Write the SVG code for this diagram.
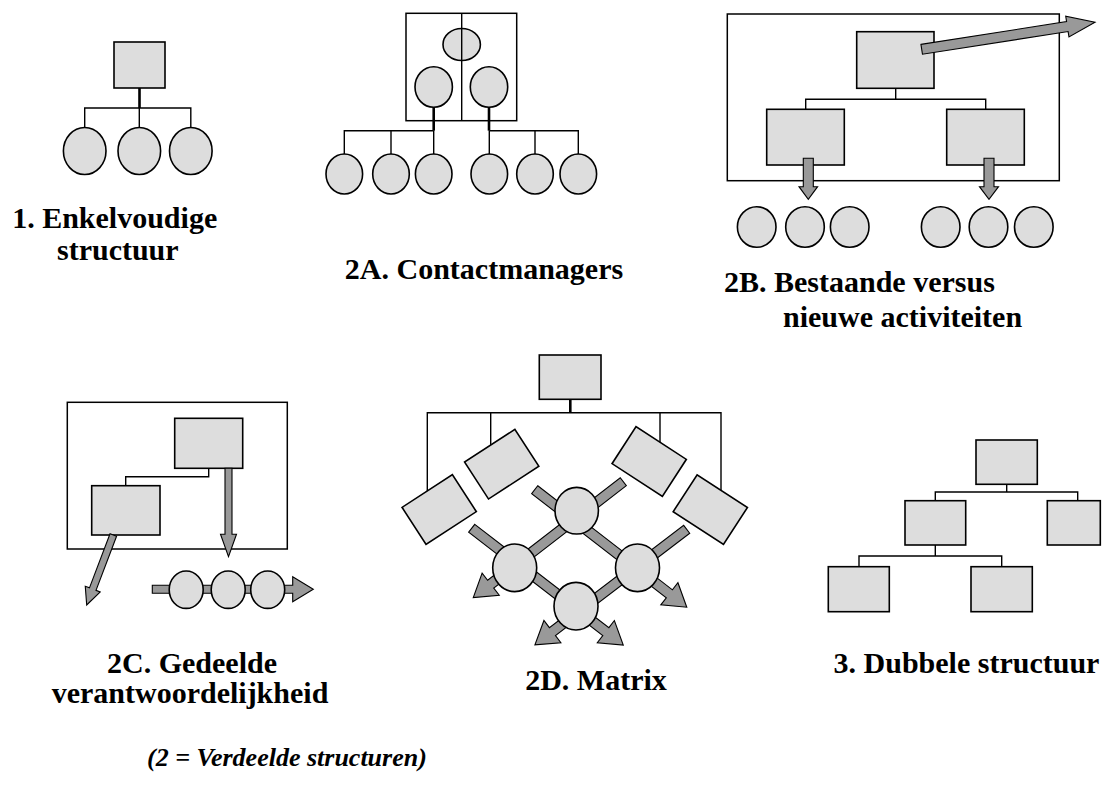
<svg xmlns="http://www.w3.org/2000/svg" width="1109" height="798" viewBox="0 0 1109 798">
<style>
.box{fill:#dddddd;stroke:#000;stroke-width:1.6}
.frame{fill:none;stroke:#000;stroke-width:1.5}
.conn line,.conn polyline{fill:none;stroke:#000;stroke-width:1.4}
.conn .thick{stroke-width:2.6}
.arrow{fill:#999999;stroke:#000;stroke-width:1.1;stroke-linejoin:miter}
.lbl{font-family:'Liberation Serif','DejaVu Serif',serif;font-weight:700;font-size:30px;fill:#000}
.note{font-family:'Liberation Serif','DejaVu Serif',serif;font-weight:700;font-style:italic;font-size:26px;fill:#000}
</style>
<rect width="1109" height="798" fill="#fff"/>

<!-- 1. Enkelvoudige structuur -->
<g id="d1">
  <g id="d1-connectors" class="conn">
    <line class="thick" x1="139.5" y1="88" x2="139.5" y2="108"/>
    <polyline points="84.7,128 84.7,108 190.8,108 190.8,128"/>
    <line x1="139.3" y1="108" x2="139.3" y2="128"/>
  </g>
  <g id="d1-top"><rect class="box" x="114" y="42" width="51" height="46"/></g>
  <g id="d1-c1"><ellipse class="box" cx="84.7" cy="151" rx="21.3" ry="23.5"/></g>
  <g id="d1-c2"><ellipse class="box" cx="139.3" cy="151" rx="21.3" ry="23.5"/></g>
  <g id="d1-c3"><ellipse class="box" cx="190.8" cy="151" rx="21.3" ry="23.5"/></g>
  <text class="lbl" x="114.7" y="228" text-anchor="middle" font-family="Liberation Serif, serif">1. Enkelvoudige</text>
  <text class="lbl" x="117.8" y="260" text-anchor="middle" font-family="Liberation Serif, serif">structuur</text>
</g>

<!-- 2A. Contactmanagers -->
<g id="d2a">
  <g id="d2a-connectors" class="conn">
    <line class="thick" x1="433.7" y1="107" x2="433.7" y2="130.7"/>
    <line class="thick" x1="489" y1="107" x2="489" y2="130.7"/>
    <polyline points="344.3,154 344.3,130.7 433.7,130.7"/>
    <line x1="391" y1="130.7" x2="391" y2="154"/>
    <line x1="433.7" y1="130.7" x2="433.7" y2="154"/>
    <polyline points="489.3,130.7 578.3,130.7 578.3,154"/>
    <line x1="489.3" y1="130.7" x2="489.3" y2="154"/>
    <line x1="535" y1="130.7" x2="535" y2="154"/>
  </g>
  <g id="d2a-frame">
    <rect class="frame" x="406" y="13.3" width="110.7" height="107.4"/>
  </g>
  <g id="d2a-top"><ellipse class="box" cx="461.7" cy="44.5" rx="18.7" ry="16"/></g>
  <g id="d2a-m1"><ellipse class="box" cx="433.7" cy="87" rx="18.7" ry="20.3"/></g>
  <g id="d2a-m2"><ellipse class="box" cx="489" cy="87" rx="18.7" ry="20.3"/></g>
  <line x1="461.7" y1="13.3" x2="461.7" y2="120.7" stroke="#000" stroke-width="1.4"/>
  <g id="d2a-b1"><ellipse class="box" cx="344.3" cy="174" rx="18.3" ry="20"/></g>
  <g id="d2a-b2"><ellipse class="box" cx="391" cy="174" rx="18.3" ry="20"/></g>
  <g id="d2a-b3"><ellipse class="box" cx="433.7" cy="174" rx="18.3" ry="20"/></g>
  <g id="d2a-b4"><ellipse class="box" cx="489.3" cy="174" rx="18.3" ry="20"/></g>
  <g id="d2a-b5"><ellipse class="box" cx="535" cy="174" rx="18.3" ry="20"/></g>
  <g id="d2a-b6"><ellipse class="box" cx="578.3" cy="174" rx="18.3" ry="20"/></g>
  <text class="lbl" x="484" y="279" text-anchor="middle" font-family="Liberation Serif, serif">2A. Contactmanagers</text>
</g>

<!-- 2B. Bestaande versus nieuwe activiteiten -->
<g id="d2b">
  <g id="d2b-frame"><rect class="frame" x="727.3" y="14" width="332" height="166.7"/></g>
  <g id="d2b-connectors" class="conn">
    <line x1="895.7" y1="88.3" x2="895.7" y2="99.3"/>
    <polyline points="805.7,109.3 805.7,99.3 985.7,99.3 985.7,109.3"/>
  </g>
  <g id="d2b-top"><rect class="box" x="856.7" y="31.7" width="77.3" height="56.6"/></g>
  <g id="d2b-left"><rect class="box" x="766.7" y="109.3" width="77.6" height="55.7"/></g>
  <g id="d2b-right"><rect class="box" x="946.7" y="109.3" width="77.6" height="55.7"/></g>
  <g id="d2b-arrows">
    <polygon class="arrow" transform="translate(921.7,49.3) rotate(-8.86)" points="0,-5 147.4,-5 147.4,-10.5 175.4,0 147.4,10.5 147.4,5 0,5"/>
    <polygon class="arrow" points="803.3,158.3 813.3,158.3 813.3,186.7 817.6,186.7 808.3,199.3 799,186.7 803.3,186.7"/>
    <polygon class="arrow" points="984,158.3 994,158.3 994,186.7 998.5,186.7 989,199.3 979.5,186.7 984,186.7"/>
  </g>
  <g id="d2b-c1"><ellipse class="box" cx="756.7" cy="227" rx="19.3" ry="20.3"/></g>
  <g id="d2b-c2"><ellipse class="box" cx="805" cy="227" rx="19.3" ry="20.3"/></g>
  <g id="d2b-c3"><ellipse class="box" cx="849.7" cy="227" rx="19.3" ry="20.3"/></g>
  <g id="d2b-c4"><ellipse class="box" cx="940.7" cy="227" rx="19.3" ry="20.3"/></g>
  <g id="d2b-c5"><ellipse class="box" cx="988.5" cy="227" rx="19.3" ry="20.3"/></g>
  <g id="d2b-c6"><ellipse class="box" cx="1033.8" cy="227" rx="19.3" ry="20.3"/></g>
  <text class="lbl" x="724" y="292" font-family="Liberation Serif, serif">2B. Bestaande versus</text>
  <text class="lbl" x="783" y="327" font-family="Liberation Serif, serif">nieuwe activiteiten</text>
</g>

<!-- 2C. Gedeelde verantwoordelijkheid -->
<g id="d2c">
  <g id="d2c-frame"><rect class="frame" x="67.3" y="402.3" width="220" height="146.7"/></g>
  <g id="d2c-connectors" class="conn">
    <polyline points="208.7,468.3 208.7,476.7 125.7,476.7 125.7,485.7"/>
  </g>
  <g id="d2c-top"><rect class="box" x="174.7" y="418.3" width="68" height="50"/></g>
  <g id="d2c-left"><rect class="box" x="91.7" y="485.7" width="68.3" height="49.3"/></g>
  <g id="d2c-arrows">
    <polygon class="arrow" points="225,468.3 232,468.3 232,534.3 236.5,534.3 228.5,556.7 220.5,534.3 225,534.3"/>
    <polygon class="arrow" transform="translate(113.3,535) rotate(110.8)" points="0,-3.5 57.9,-3.5 57.9,-8 74.9,0 57.9,8 57.9,3.5 0,3.5"/>
    <polygon class="arrow" points="152.3,585.2 292.7,585.2 292.7,576.7 313.3,589.2 292.7,601.7 292.7,593.2 152.3,593.2"/>
  </g>
  <g id="d2c-c1"><ellipse class="box" cx="186.2" cy="589.7" rx="17" ry="18.7"/></g>
  <g id="d2c-c2"><ellipse class="box" cx="228.2" cy="589.7" rx="17" ry="18.7"/></g>
  <g id="d2c-c3"><ellipse class="box" cx="267.7" cy="589.7" rx="17" ry="18.7"/></g>
  <text class="lbl" x="192" y="673" text-anchor="middle" font-family="Liberation Serif, serif">2C. Gedeelde</text>
  <text class="lbl" x="190" y="703" text-anchor="middle" font-family="Liberation Serif, serif">verantwoordelijkheid</text>
</g>

<!-- 2D. Matrix -->
<g id="d2d">
  <g id="d2d-connectors" class="conn">
    <line class="thick" x1="570.3" y1="399.3" x2="570.3" y2="412.7"/>
    <polyline points="427.3,491 427.3,412.7 721,412.7 721,490"/>
    <line x1="490.7" y1="412.7" x2="490.7" y2="445"/>
    <line x1="660" y1="412.7" x2="660" y2="442.5"/>
  </g>
  <g id="d2d-top"><rect class="box" x="539.3" y="355" width="61.7" height="44.3"/></g>
  <g id="d2d-r1"><rect class="box" x="-30" y="-22" width="60" height="44" transform="translate(439.2,509.5) rotate(-33)"/></g>
  <g id="d2d-r2"><rect class="box" x="-30" y="-22" width="60" height="44" transform="translate(501.7,464.2) rotate(-33)"/></g>
  <g id="d2d-r3"><rect class="box" x="-30" y="-22" width="60" height="44" transform="translate(649.2,461.5) rotate(33)"/></g>
  <g id="d2d-r4"><rect class="box" x="-30" y="-22" width="60" height="44" transform="translate(710.3,509.6) rotate(33)"/></g>
  <g id="d2d-arrows">
    <polygon class="arrow" transform="translate(534.7,489.7) rotate(37.7)" points="0,-5 170.2,-5 170.2,-14 192.2,0 170.2,14 170.2,5 0,5"/>
    <polygon class="arrow" transform="translate(471.7,528.3) rotate(37.6)" points="0,-5 169.3,-5 169.3,-14 191.3,0 169.3,14 169.3,5 0,5"/>
    <polygon class="arrow" transform="translate(623.3,481.7) rotate(142.3)" points="0,-5 167.6,-5 167.6,-14 189.6,0 167.6,14 167.6,5 0,5"/>
    <polygon class="arrow" transform="translate(686.7,529.3) rotate(142.7)" points="0,-5 168.8,-5 168.8,-14 190.8,0 168.8,14 168.8,5 0,5"/>
  </g>
  <g id="d2d-c1"><ellipse class="box" cx="576.7" cy="510.7" rx="21.7" ry="23.3"/></g>
  <g id="d2d-c2"><ellipse class="box" cx="514.7" cy="567.8" rx="22" ry="23.8"/></g>
  <g id="d2d-c3"><ellipse class="box" cx="637.5" cy="567.8" rx="22" ry="23.8"/></g>
  <g id="d2d-c4"><ellipse class="box" cx="576" cy="606.2" rx="22" ry="23.8"/></g>
  <text class="lbl" x="596" y="690" text-anchor="middle" font-family="Liberation Serif, serif">2D. Matrix</text>
</g>

<!-- 3. Dubbele structuur -->
<g id="d3">
  <g id="d3-connectors" class="conn">
    <line x1="1006.7" y1="484.3" x2="1006.7" y2="492"/>
    <polyline points="935.3,500.7 935.3,492 1077.7,492 1077.7,500.7"/>
    <line x1="935.3" y1="545" x2="935.3" y2="556"/>
    <polyline points="859,566.7 859,556 1001.7,556 1001.7,566.7"/>
  </g>
  <g id="d3-top"><rect class="box" x="976" y="440" width="61.3" height="44.3"/></g>
  <g id="d3-mid"><rect class="box" x="905" y="500.7" width="60.7" height="44.3"/></g>
  <g id="d3-right"><rect class="box" x="1047.3" y="500.7" width="53" height="44.3"/></g>
  <g id="d3-bl"><rect class="box" x="828.3" y="566.7" width="61" height="45"/></g>
  <g id="d3-br"><rect class="box" x="971" y="566.7" width="61.3" height="45"/></g>
  <text class="lbl" x="966.5" y="673" text-anchor="middle" font-family="Liberation Serif, serif">3. Dubbele structuur</text>
</g>

<text class="note" x="147" y="766" font-family="Liberation Serif, serif">(2 = Verdeelde structuren)</text>
</svg>
